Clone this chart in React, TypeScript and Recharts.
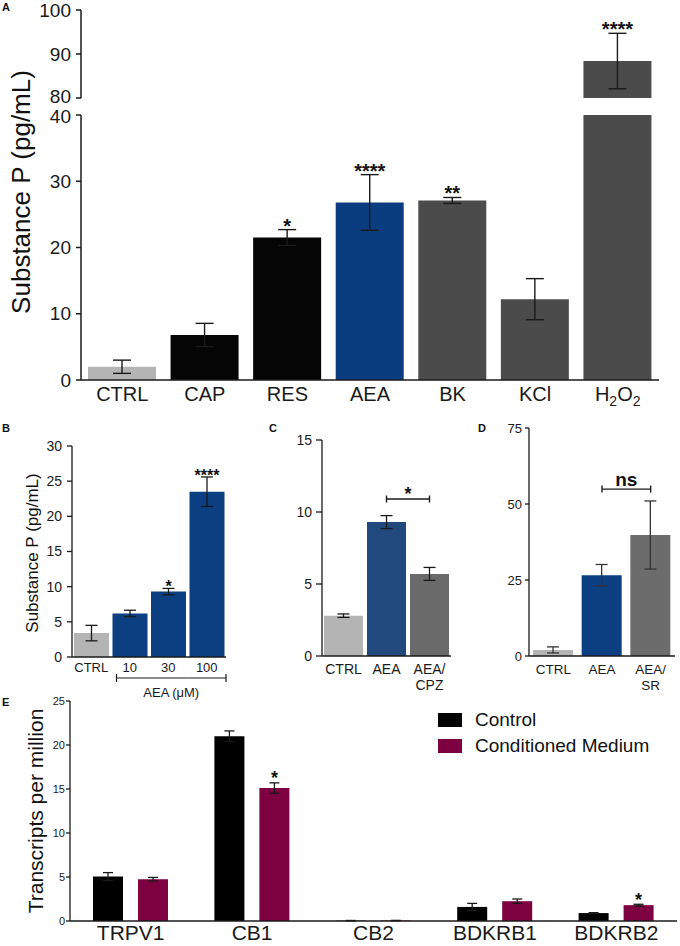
import React from 'react';
import { BarChart, Bar, XAxis, YAxis, ErrorBar, Cell, LabelList, ReferenceLine, Legend } from 'recharts';

const FONT = "'Liberation Sans', Arial, Helvetica, sans-serif";
const INK = '#1a1a1a';

// ---------- Panel A ----------
const aCategories = ['CTRL', 'CAP', 'RES', 'AEA', 'BK', 'KCl', 'H2O2'];
const aMeans = [2.0, 6.8, 21.5, 26.8, 27.1, 12.2, 88.4];
const aSem = [1.0, 1.75, 1.2, 4.2, 0.45, 3.1, 6.3];
const aSig = ['', '', '*', '****', '**', '', '****'];
const aLowerTicks = [0, 10, 20, 30, 40];
const aUpperTicks = [80, 90, 100];
const aLowerDomain = [0, 40];
const aUpperDomain = [80, 100];
const aColors = ['#b4b4b4', '#050505', '#050505', '#0a3c80', '#4b4b4b', '#4b4b4b', '#4b4b4b'];

// ---------- Panel B ----------
const bCategories = ['CTRL', '10', '30', '100'];
const bMeans = [3.4, 6.2, 9.3, 23.5];
const bSem = [1.1, 0.45, 0.45, 2.1];
const bSig = ['', '', '*', '****'];
const bGroup = ['', 'AEA (μM)', 'AEA (μM)', 'AEA (μM)'];
const bTicks = [0, 5, 10, 15, 20, 25, 30];
const bColors = ['#b4b4b4', '#0b3f82', '#0b3f82', '#0b3f82'];

// ---------- Panel C ----------
const cCategories = ['CTRL', 'AEA', 'AEA/CPZ'];
const cMeans = [2.8, 9.3, 5.7];
const cSem = [0.12, 0.45, 0.45];
const cTicks = [0, 5, 10, 15];
const cBracket = { from: 'AEA', to: 'AEA/CPZ', level: 10.9, text: '*' };
const cColors = ['#b4b4b4', '#21497d', '#6a6a6a'];

// ---------- Panel D ----------
const dCategories = ['CTRL', 'AEA', 'AEA/SR'];
const dMeans = [2.0, 26.6, 39.8];
const dSem = [1.0, 3.5, 11.2];
const dTicks = [0, 25, 50, 75];
const dBracket = { from: 'AEA', to: 'AEA/SR', level: 54.9, text: 'ns' };
const dColors = ['#b4b4b4', '#0b3f82', '#6c6c6c'];

// ---------- Panel E ----------
const eGenes = ['TRPV1', 'CB1', 'CB2', 'BDKRB1', 'BDKRB2'];
const eSeries = ['Control', 'Conditioned Medium'];
const eControl = [5.05, 21.0, 0.04, 1.6, 0.9];
const eControlSem = [0.45, 0.6, 0.02, 0.4, 0.05];
const eConditioned = [4.75, 15.1, 0.05, 2.25, 1.8];
const eConditionedSem = [0.2, 0.6, 0.02, 0.25, 0.1];
const eConditionedSig = ['', '*', '', '', '*'];
const eTicks = [0, 5, 10, 15, 20, 25];

// ---------- data tables ----------
const aLowerData = aCategories.map((cat, i) => ({
  cat,
  value: aMeans[i],
  sem: aMeans[i] <= aLowerDomain[1] ? aSem[i] : null,
  sig: aMeans[i] <= aLowerDomain[1] ? aSig[i] : '',
}));
const aUpperData = aCategories.map((cat, i) => ({
  cat,
  value: aMeans[i] >= aUpperDomain[0] ? aMeans[i] : null,
  sem: aMeans[i] >= aUpperDomain[0] ? aSem[i] : null,
  sig: aMeans[i] >= aUpperDomain[0] ? aSig[i] : '',
}));
const bData = bCategories.map((cat, i) => ({ cat, value: bMeans[i], sem: bSem[i], sig: bSig[i] }));
const cData = cCategories.map((cat, i) => ({ cat, value: cMeans[i], sem: cSem[i] }));
const dData = dCategories.map((cat, i) => ({ cat, value: dMeans[i], sem: dSem[i] }));
const eData = eGenes.map((gene, i) => ({
  gene,
  control: eControl[i],
  controlSem: eControlSem[i],
  cm: eConditioned[i],
  cmSem: eConditionedSem[i],
  cmSig: eConditionedSig[i],
}));

// ---------- helpers ----------
const makeStar = (base: number, fontSize: number, lift: number) => (props: any) => {
  const row = props.value;
  const vb = props.viewBox || props;
  if (!row || typeof row !== 'object' || !row.sig || !vb) return null;
  const { x, y, width, height } = vb;
  if (!height || row.value == null) return null;
  const ppu = Math.abs(height) / (row.value - base);
  const top = Math.min(y, y + height);
  const errTop = top - (row.sem || 0) * ppu;
  return (
    <text x={x + width / 2} y={errTop + lift} textAnchor="middle" fontSize={fontSize} fontWeight="bold"
      fontFamily={FONT} fill="#111">{row.sig}</text>
  );
};

const rotTitle = (cx: number, cy: number, size: number) => (props: any) => (
  <text x={cx} y={cy} transform={`rotate(-90 ${cx} ${cy})`} textAnchor="middle" dominantBaseline="central"
    fontSize={size} fontFamily={FONT} fill="#111">{props.value}</text>
);

// y tick; the tick next to the axis break (breakValue) is nudged away from the break
const makeYTick = (fontSize: number, breakValue: number, shift: number) => (props: any) => {
  const { x, y, payload } = props;
  const dy = Number(payload.value) === breakValue ? shift : 0;
  return (
    <text x={x} y={y + dy} textAnchor="end" dominantBaseline="central" fontSize={fontSize}
      fontFamily={FONT} fill={INK}>{String(payload.value)}</text>
  );
};

const ATick = (props: any) => {
  const { x, y, payload } = props;
  const v = String(payload.value);
  const m = v.match(/^([A-Za-z]+)(\d)([A-Za-z]+)(\d)$/);
  if (m) {
    return (
      <text x={x} y={y} dy="0.71em" textAnchor="middle" fontSize={20} fontFamily={FONT} fill={INK}>
        {m[1]}<tspan dy={5} fontSize={14}>{m[2]}</tspan><tspan dy={-5}>{m[3]}</tspan><tspan dy={5} fontSize={14}>{m[4]}</tspan>
      </text>
    );
  }
  return <text x={x} y={y} dy="0.71em" textAnchor="middle" fontSize={20} fontFamily={FONT} fill={INK}>{v}</text>;
};

const BTick = (props: any) => {
  const { x, y, payload, index } = props;
  const i = typeof index === 'number' ? index : bCategories.indexOf(String(payload.value));
  const half = payload && typeof payload.offset === 'number' && payload.offset > 0 ? payload.offset : 19.25;
  const group = bGroup[i];
  const parts: any[] = [
    <text key="t" x={x} y={y} dy="0.71em" textAnchor="middle" fontSize={13} fontFamily={FONT} fill={INK}>{String(payload.value)}</text>,
  ];
  if (group) {
    const first = bGroup.indexOf(group);
    const last = bGroup.lastIndexOf(group);
    const ly = y + 15;
    const left = i === first ? x - half + 6 : x - half;
    const right = x + half;
    parts.push(<line key="l" x1={left} x2={right} y1={ly} y2={ly} stroke={INK} strokeWidth={1.2} />);
    if (i === first) parts.push(<line key="c1" x1={left} x2={left} y1={ly - 4} y2={ly + 4} stroke={INK} strokeWidth={1.2} />);
    if (i === last) parts.push(<line key="c2" x1={right} x2={right} y1={ly - 4} y2={ly + 4} stroke={INK} strokeWidth={1.2} />);
    if (i === Math.floor((first + last) / 2)) {
      const cx = x + ((first + last + 1) / 2 - i - 0.5) * 2 * half + 3;
      parts.push(<text key="g" x={cx} y={y + 29} dy="0.35em" textAnchor="middle" fontSize={13} fontFamily={FONT} fill={INK}>{group}</text>);
    }
  }
  return <g>{parts}</g>;
};

const makeSplitTick = (fontSize: number, lineGap: number) => (props: any) => {
  const { x, y, payload } = props;
  const raw = String(payload.value);
  const idx = raw.indexOf('/');
  const lines = idx >= 0 ? [raw.slice(0, idx + 1), raw.slice(idx + 1)] : [raw];
  return (
    <text x={x} y={y} textAnchor="middle" fontSize={fontSize} fontFamily={FONT} fill={INK}>
      {lines.map((l, k) => <tspan key={k} x={x} dy={k === 0 ? '0.71em' : lineGap}>{l}</tspan>)}
    </text>
  );
};

const makeBracket = (text: string, fontSize: number, textLift: number) => (props: any) => {
  const { x1, x2, y1 } = props;
  if (x1 == null || x2 == null || y1 == null) return null;
  return (
    <g>
      <line x1={x1} x2={x2} y1={y1} y2={y1} stroke={INK} strokeWidth={1.4} />
      <line x1={x1} x2={x1} y1={y1 - 3.5} y2={y1 + 3.5} stroke={INK} strokeWidth={1.4} />
      <line x1={x2} x2={x2} y1={y1 - 3.5} y2={y1 + 3.5} stroke={INK} strokeWidth={1.4} />
      <text x={(x1 + x2) / 2} y={y1 + textLift} textAnchor="middle" fontSize={fontSize} fontWeight="bold"
        fontFamily={FONT} fill="#111">{text}</text>
    </g>
  );
};

const ELegend = (props: any) => {
  const payload = [...(props.payload || [])].sort(
    (a: any, b: any) => eSeries.indexOf(String(a.value)) - eSeries.indexOf(String(b.value)),
  );
  return (
    <div style={{ fontFamily: FONT, fontSize: 19, color: '#111' }}>
      {payload.map((p: any, i: number) => (
        <div key={i} style={{ display: 'flex', alignItems: 'center', height: 26, whiteSpace: 'nowrap' }}>
          <span style={{ display: 'inline-block', width: 24, height: 14, background: p.color, marginRight: 13 }} />
          <span>{p.value}</span>
        </div>
      ))}
    </div>
  );
};

const axisStyle = (w: number) => ({ stroke: INK, strokeWidth: w });
const tickFont = (size: number) => ({ fontSize: size, fill: INK, fontFamily: FONT });
const letter = (t: string, left: number, top: number) => (
  <div style={{ position: 'absolute', left, top, fontFamily: FONT, fontWeight: 'bold', fontSize: 11, lineHeight: '11px', color: '#111' }}>{t}</div>
);
const pick = (key: string) => (d: any) => ({ value: d[key], sem: d.sem, sig: d.sig });

export default function App() {
  return (
    <div style={{ position: 'absolute', left: 0, top: 0, width: 680, height: 946, background: '#fff', overflow: 'hidden' }}>
      {/* Panel A lower segment */}
      <div style={{ position: 'absolute', left: 0, top: 0 }}>
        <BarChart width={680} height={430} data={aLowerData} margin={{ top: 115, right: 21, left: 0, bottom: 0 }}>
          <XAxis dataKey="cat" height={50} interval={0} tickLine={false} tickSize={0} tickMargin={7}
            axisLine={axisStyle(1.5)} tick={ATick} />
          <YAxis width={81} domain={aLowerDomain} ticks={aLowerTicks} allowDataOverflow interval={0}
            tickSize={5} tickMargin={5} axisLine={axisStyle(1.5)} tickLine={axisStyle(1.5)}
            tick={makeYTick(19, aLowerDomain[1], 1)}
            label={{ value: 'Substance P (pg/mL)', content: rotTitle(21, 192, 26) }} />
          <Bar dataKey="value" barSize={68} isAnimationActive={false}>
            {aLowerData.map((d, i) => <Cell key={d.cat} fill={aColors[i]} />)}
            <ErrorBar dataKey="sem" width={9} stroke={INK} strokeWidth={1.4} isAnimationActive={false} />
            <LabelList dataKey={pick('value')} content={makeStar(0, 20, 3)} />
          </Bar>
        </BarChart>
      </div>
      {/* Panel A upper segment */}
      <div style={{ position: 'absolute', left: 0, top: 0 }}>
        <BarChart width={680} height={112} data={aUpperData} margin={{ top: 10, right: 21, left: 0, bottom: 14 }}>
          <XAxis dataKey="cat" hide />
          <YAxis width={81} domain={aUpperDomain} ticks={aUpperTicks} allowDataOverflow interval={0}
            tickSize={5} tickMargin={5} axisLine={axisStyle(1.5)} tickLine={axisStyle(1.5)}
            tick={makeYTick(19, aUpperDomain[0], -2)} />
          <Bar dataKey="value" barSize={68} isAnimationActive={false}>
            {aUpperData.map((d, i) => <Cell key={d.cat} fill={aColors[i]} />)}
            <ErrorBar dataKey="sem" width={9} stroke={INK} strokeWidth={1.4} isAnimationActive={false} />
            <LabelList dataKey={pick('value')} content={makeStar(aUpperDomain[0], 20, 3)} />
          </Bar>
        </BarChart>
      </div>

      {/* Panel B */}
      <div style={{ position: 'absolute', left: 0, top: 420 }}>
        <BarChart width={240} height={287} data={bData} margin={{ top: 26, right: 14, left: 0, bottom: 0 }}>
          <XAxis dataKey="cat" height={50} interval={0} tickLine={false} tickSize={0} tickMargin={6}
            axisLine={axisStyle(1.3)} tick={BTick} />
          <YAxis width={72} domain={[0, 30]} ticks={bTicks} interval={0} tickSize={5} tickMargin={5}
            axisLine={axisStyle(1.3)} tickLine={axisStyle(1.3)} tick={tickFont(14)}
            label={{ value: 'Substance P (pg/mL)', content: rotTitle(32, 133, 17) }} />
          <Bar dataKey="value" barSize={35} isAnimationActive={false}>
            {bData.map((d, i) => <Cell key={d.cat} fill={bColors[i]} />)}
            <ErrorBar dataKey="sem" width={6} stroke={INK} strokeWidth={1.3} isAnimationActive={false} />
            <LabelList dataKey={pick('value')} content={makeStar(0, 16, 4)} />
          </Bar>
        </BarChart>
      </div>

      {/* Panel C */}
      <div style={{ position: 'absolute', left: 230, top: 420 }}>
        <BarChart width={225} height={276} data={cData} margin={{ top: 20, right: 4, left: 0, bottom: 0 }}>
          <XAxis dataKey="cat" height={40} interval={0} tickLine={false} tickSize={0} tickMargin={8}
            axisLine={axisStyle(1.3)} tick={makeSplitTick(14, 16)} />
          <YAxis width={92} domain={[0, 15]} ticks={cTicks} interval={0} tickSize={6} tickMargin={4}
            axisLine={axisStyle(1.3)} tickLine={axisStyle(1.3)} tick={tickFont(14)} />
          <Bar dataKey="value" barSize={39} isAnimationActive={false}>
            {cData.map((d, i) => <Cell key={d.cat} fill={cColors[i]} />)}
            <ErrorBar dataKey="sem" width={6} stroke={INK} strokeWidth={1.3} isAnimationActive={false} />
          </Bar>
          <ReferenceLine segment={[{ x: cBracket.from, y: cBracket.level }, { x: cBracket.to, y: cBracket.level }]}
            ifOverflow="visible" shape={makeBracket(cBracket.text, 18, 1)} />
        </BarChart>
      </div>

      {/* Panel D */}
      <div style={{ position: 'absolute', left: 440, top: 420 }}>
        <BarChart width={240} height={276} data={dData} margin={{ top: 8, right: 5, left: 0, bottom: 0 }}>
          <XAxis dataKey="cat" height={40} interval={0} tickLine={false} tickSize={0} tickMargin={8}
            axisLine={axisStyle(1.3)} tick={makeSplitTick(13.5, 16)} />
          <YAxis width={89} domain={[0, 75]} ticks={dTicks} interval={0} tickSize={4} tickMargin={3}
            axisLine={axisStyle(1.3)} tickLine={axisStyle(1.3)} tick={tickFont(13)} />
          <Bar dataKey="value" barSize={40} isAnimationActive={false}>
            {dData.map((d, i) => <Cell key={d.cat} fill={dColors[i]} />)}
            <ErrorBar dataKey="sem" width={6} stroke="#333" strokeWidth={1.3} isAnimationActive={false} />
          </Bar>
          <ReferenceLine segment={[{ x: dBracket.from, y: dBracket.level }, { x: dBracket.to, y: dBracket.level }]}
            ifOverflow="visible" shape={makeBracket(dBracket.text, 19, -3)} />
        </BarChart>
      </div>

      {/* Panel E */}
      <div style={{ position: 'absolute', left: 0, top: 690 }}>
        <BarChart width={680} height={256} data={eData} margin={{ top: 11, right: 3, left: 0, bottom: 0 }} barGap={15}>
          <XAxis dataKey="gene" height={25} interval={0} tickLine={false} tickSize={0} tickMargin={4}
            axisLine={axisStyle(1.3)} tick={tickFont(21)} />
          <YAxis width={70} domain={[0, 25]} ticks={eTicks} interval={0} tickSize={4} tickMargin={1}
            axisLine={axisStyle(1.3)} tickLine={axisStyle(1.3)} tick={tickFont(11)}
            label={{ value: 'Transcripts per million', content: rotTitle(35, 121, 21) }} />
          <Legend layout="vertical" align="center" verticalAlign="middle" content={ELegend}
            wrapperStyle={{ left: 438, top: 17, width: 240 }} />
          <Bar dataKey="control" name={eSeries[0]} fill="#000000" barSize={30} isAnimationActive={false}>
            <ErrorBar dataKey="controlSem" width={5} stroke={INK} strokeWidth={1.3} isAnimationActive={false} />
          </Bar>
          <Bar dataKey="cm" name={eSeries[1]} fill="#7d0040" barSize={30} isAnimationActive={false}>
            <ErrorBar dataKey="cmSem" width={5} stroke={INK} strokeWidth={1.3} isAnimationActive={false} />
            <LabelList dataKey={(d: any) => ({ value: d.cm, sem: d.cmSem, sig: d.cmSig })} content={makeStar(0, 18, 1.5)} />
          </Bar>
        </BarChart>
      </div>

      {letter('A', 2, 2)}
      {letter('B', 2, 423)}
      {letter('C', 269, 423)}
      {letter('D', 478, 423)}
      {letter('E', 2, 697)}
    </div>
  );
}
